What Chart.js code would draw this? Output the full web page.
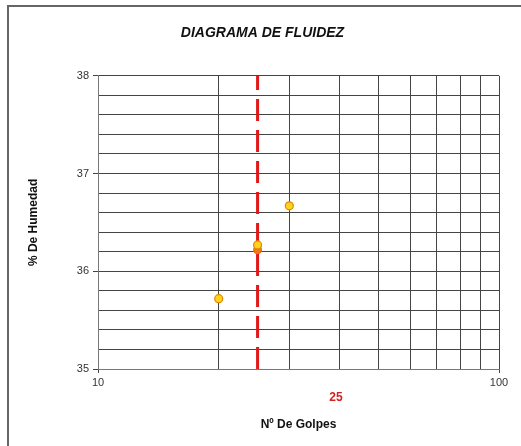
<!DOCTYPE html>
<html>
<head>
<meta charset="utf-8">
<script src="https://cdn.jsdelivr.net/npm/chart.js@4/dist/chart.umd.min.js"></script>
<style>
  html, body { margin: 0; padding: 0; background: #fff; }
  #wrap { width: 521px; height: 446px; position: relative; }
</style>
</head>
<body>
<div id="wrap"><canvas id="c" width="521" height="446"></canvas></div>
<script>
// Ensayo de límite líquido: número de golpes vs. contenido de humedad
const golpes = [20, 25, 30];
const humedad = [35.72, 36.27, 36.67];
const golpesLL = [25];
const humedadLL = [36.22];
const lineaRef = 25;           // golpes de referencia (línea discontinua)
const xGrid = [10, 20, 30, 40, 50, 60, 70, 80, 90, 100];
const xTickLabels = [10, 100];
const yTickLabels = [35, 36, 37, 38];
const FONT = "'Liberation Sans', Arial, sans-serif";

const frame = {
  id: 'frame',
  beforeDraw(chart) {
    const ctx = chart.ctx;
    ctx.save();
    ctx.fillStyle = '#fff';
    ctx.fillRect(0, 0, chart.width, chart.height);
    ctx.strokeStyle = '#666';
    ctx.lineWidth = 2;
    ctx.strokeRect(8, 6, 700, 700);
    ctx.restore();
  },
  afterDraw(chart) {
    const ctx = chart.ctx;
    ctx.save();
    ctx.fillStyle = '#d42020';
    ctx.font = 'bold 12px ' + FONT;
    ctx.textAlign = 'center';
    ctx.textBaseline = 'middle';
    ctx.fillText(String(lineaRef), 336, 398);
    ctx.restore();
  }
};

new Chart(document.getElementById('c'), {
  type: 'scatter',
  data: {
    datasets: [
      {
        type: 'line',
        data: [{x: lineaRef, y: 35}, {x: lineaRef, y: 38}],
        borderColor: '#e01818',
        borderWidth: 3,
        borderDash: [22, 9],
        pointRadius: 0,
        order: 3
      },
      {
        data: golpesLL.map((g, i) => ({x: g, y: humedadLL[i]})),
        backgroundColor: '#f07818',
        borderColor: '#e86a10',
        borderWidth: 1,
        pointRadius: 4,
        order: 2
      },
      {
        data: golpes.map((g, i) => ({x: g, y: humedad[i]})),
        backgroundColor: '#ffd21e',
        borderColor: '#e08800',
        borderWidth: 1.2,
        pointRadius: 4,
        order: 1
      }
    ]
  },
  options: {
    responsive: false,
    animation: false,
    layout: { padding: { left: 26, right: 22, top: 0, bottom: 0 } },
    plugins: {
      legend: { display: false },
      tooltip: { enabled: false },
      title: {
        display: true,
        text: 'DIAGRAMA DE FLUIDEZ',
        color: '#111',
        font: { family: FONT, size: 14, weight: 'bold', style: 'italic' },
        padding: { top: 25, bottom: 34 }
      }
    },
    scales: {
      x: {
        type: 'logarithmic',
        min: 10,
        max: 100,
        afterBuildTicks(s) { s.ticks = xGrid.map(v => ({ value: v })); },
        afterFit(s) { s.height = 77; },
        border: { color: '#777', width: 1 },
        grid: {
          color: '#444',
          lineWidth: 1,
          tickLength: 4,
          tickColor: c => xTickLabels.includes(c.tick && c.tick.value) ? '#444' : 'rgba(0,0,0,0)'
        },
        ticks: {
          autoSkip: false,
          maxRotation: 0,
          padding: 3,
          color: '#333',
          font: { family: FONT, size: 11 },
          callback: v => xTickLabels.includes(v) ? String(v) : ''
        },
        title: {
          display: true,
          text: 'Nº De Golpes',
          color: '#111',
          font: { family: FONT, size: 12, weight: 'bold' },
          padding: { top: 0, bottom: 14 }
        }
      },
      y: {
        min: 35,
        max: 38,
        afterFit(s) { s.width = 72; },
        border: { color: '#777', width: 1 },
        grid: {
          color: '#444',
          lineWidth: 1,
          tickLength: 5,
          tickColor: c => yTickLabels.includes(Math.round((c.tick ? c.tick.value : 0) * 100) / 100) ? '#444' : 'rgba(0,0,0,0)'
        },
        ticks: {
          stepSize: 0.2,
          padding: 4,
          color: '#333',
          font: { family: FONT, size: 11 },
          callback: v => {
            const r = Math.round(v * 100) / 100;
            return yTickLabels.includes(r) ? String(r) : '';
          }
        },
        title: {
          display: true,
          text: '% De Humedad',
          color: '#111',
          font: { family: FONT, size: 12, weight: 'bold' },
          padding: { top: 0, bottom: 0 }
        }
      }
    }
  },
  plugins: [frame]
});
</script>
</body>
</html>
